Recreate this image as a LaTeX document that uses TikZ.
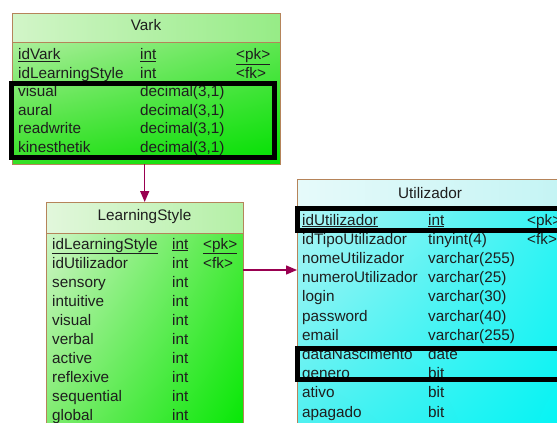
\documentclass[tikz,border=0pt]{standalone}
\usepackage{fontspec}
\setmainfont{Liberation Sans}
\usetikzlibrary{arrows.meta,shadings}
\definecolor{edge}{HTML}{B5845A}
\definecolor{fkline}{HTML}{990050}
\definecolor{ink}{HTML}{1E1E1E}
% Vark body corners and header
\definecolor{varkUL}{HTML}{C8F2B8}
\definecolor{varkUR}{HTML}{74E864}
\definecolor{varkLL}{HTML}{34E024}
\definecolor{varkLR}{HTML}{00E000}
\definecolor{varkH}{HTML}{D2F5C8}
\definecolor{varkH2}{HTML}{96EC86}
% LearningStyle body corners and header
\definecolor{lsUL}{HTML}{DCF7D4}
\definecolor{lsUR}{HTML}{58EA48}
\definecolor{lsLL}{HTML}{78EA68}
\definecolor{lsLR}{HTML}{00E800}
\definecolor{lsH}{HTML}{E2F7DC}
\definecolor{lsH2}{HTML}{B4F0A6}
% Utilizador body corners and header
\definecolor{utUL}{HTML}{BCF6F6}
\definecolor{utUR}{HTML}{38F2F2}
\definecolor{utLL}{HTML}{48F0F0}
\definecolor{utLR}{HTML}{00F4F4}
\definecolor{utH}{HTML}{E6FAFA}
\definecolor{utH2}{HTML}{C4F4F4}
\tikzset{
  tablebox/.style={inner sep=0pt, anchor=north west},
  frame/.style={draw=edge, line width=0.9pt},
  cell/.style={anchor=base west, inner sep=0pt, text=ink, font=\fontsize{15.3}{18}\selectfont},
  caption/.style={anchor=base, inner sep=0pt, text=ink, font=\fontsize{15.3}{18}\selectfont},
  markbox/.style={draw=black, line width=5pt},
  fk/.style={draw=fkline, line width=1.4pt, -{Triangle[length=11pt,width=9pt]}}
}
\begin{document}
\begin{tikzpicture}[x=1pt,y=-1pt]
\useasboundingbox (0,0) rectangle (557,423);
\clip (0,0) rectangle (557,423);
\fill[white] (0,0) rectangle (557,423);

% ---------- Vark ----------
\node[tablebox, minimum width=268pt, minimum height=151pt] (vark) at (12,13) {};
\shade[upper left=varkUL, upper right=varkUR, lower left=varkLL, lower right=varkLR]
  (vark.north west) rectangle (vark.south east);
\shade[left color=varkH, right color=varkH2] (vark.north west) rectangle ([yshift=-29pt]vark.north east);
\draw[frame] (vark.north west) rectangle (vark.south east);
\draw[frame] ([yshift=-29pt]vark.north west) -- ([yshift=-29pt]vark.north east);
\node[caption] (vark-t) at (146,30) {Vark};
\foreach \n/\t/\k [count=\i from 0] in {\underline{idVark}/\underline{int}/\underline{<pk>},
    idLearningStyle/int/<fk>, visual/{decimal(3,1)}/{}, aural/{decimal(3,1)}/{},
    readwrite/{decimal(3,1)}/{}, kinesthetik/{decimal(3,1)}/{}} {
  \node[cell] (vark-n\i) at (18,59.5+18.6*\i) {\n};
  \node[cell] (vark-y\i) at (140,59.5+18.6*\i) {\t};
  \node[cell] (vark-k\i) at (236,59.5+18.6*\i) {\k};
}
\draw[markbox] (11.5,83) rectangle (274.5,157.5);

% ---------- LearningStyle ----------
\node[tablebox, minimum width=197pt, minimum height=240pt] (ls) at (46,202) {};
\shade[upper left=lsUL, upper right=lsUR, lower left=lsLL, lower right=lsLR]
  (ls.north west) rectangle (ls.south east);
\shade[left color=lsH, right color=lsH2] (ls.north west) rectangle ([yshift=-31pt]ls.north east);
\draw[frame] (ls.north west) rectangle (ls.south east);
\draw[frame] ([yshift=-31pt]ls.north west) -- ([yshift=-31pt]ls.north east);
\node[caption] (ls-t) at (144.5,220) {LearningStyle};
\foreach \n/\t/\k [count=\i from 0] in {\underline{idLearningStyle}/\underline{int}/\underline{<pk>},
    idUtilizador/int/<fk>, sensory/int/{}, intuitive/int/{}, visual/int/{}, verbal/int/{},
    active/int/{}, reflexive/int/{}, sequential/int/{}, global/int/{}} {
  \node[cell] (ls-n\i) at (52,249+19*\i) {\n};
  \node[cell] (ls-y\i) at (172,249+19*\i) {\t};
  \node[cell] (ls-k\i) at (203,249+19*\i) {\k};
}

% ---------- Utilizador ----------
\node[tablebox, minimum width=268pt, minimum height=262pt] (util) at (297,179) {};
\shade[upper left=utUL, upper right=utUR, lower left=utLL, lower right=utLR]
  (util.north west) rectangle (util.south east);
\shade[left color=utH, right color=utH2] (util.north west) rectangle ([yshift=-27pt]util.north east);
\draw[frame] (util.north west) rectangle (util.south east);
\draw[frame] ([yshift=-27pt]util.north west) -- ([yshift=-27pt]util.north east);
\node[caption] (util-t) at (430,198) {Utilizador};
\foreach \n/\t/\k [count=\i from 0] in {\underline{idUtilizador}/\underline{int}/\underline{<pk>},
    idTipoUtilizador/tinyint(4)/<fk>, nomeUtilizador/varchar(255)/{}, numeroUtilizador/varchar(25)/{},
    login/varchar(30)/{}, password/varchar(40)/{}, email/varchar(255)/{}, dataNascimento/date/{},
    genero/bit/{}, ativo/bit/{}, apagado/bit/{}} {
  \node[cell] (util-n\i) at (302,225+19.2*\i) {\n};
  \node[cell] (util-y\i) at (428,225+19.2*\i) {\t};
  \node[cell] (util-k\i) at (527,225+19.2*\i) {\k};
}
\draw[markbox] (297.5,208.5) rectangle (585,230.5);
\draw[markbox] (297.5,348.5) rectangle (585,379.5);

% ---------- foreign keys ----------
\coordinate (fkrow) at (0,270);
\draw[fk] (vark.south -| ls.north) -- (ls.north);
\draw[fk] (ls.east |- fkrow) -- (util.west |- fkrow);
\end{tikzpicture}
\end{document}
